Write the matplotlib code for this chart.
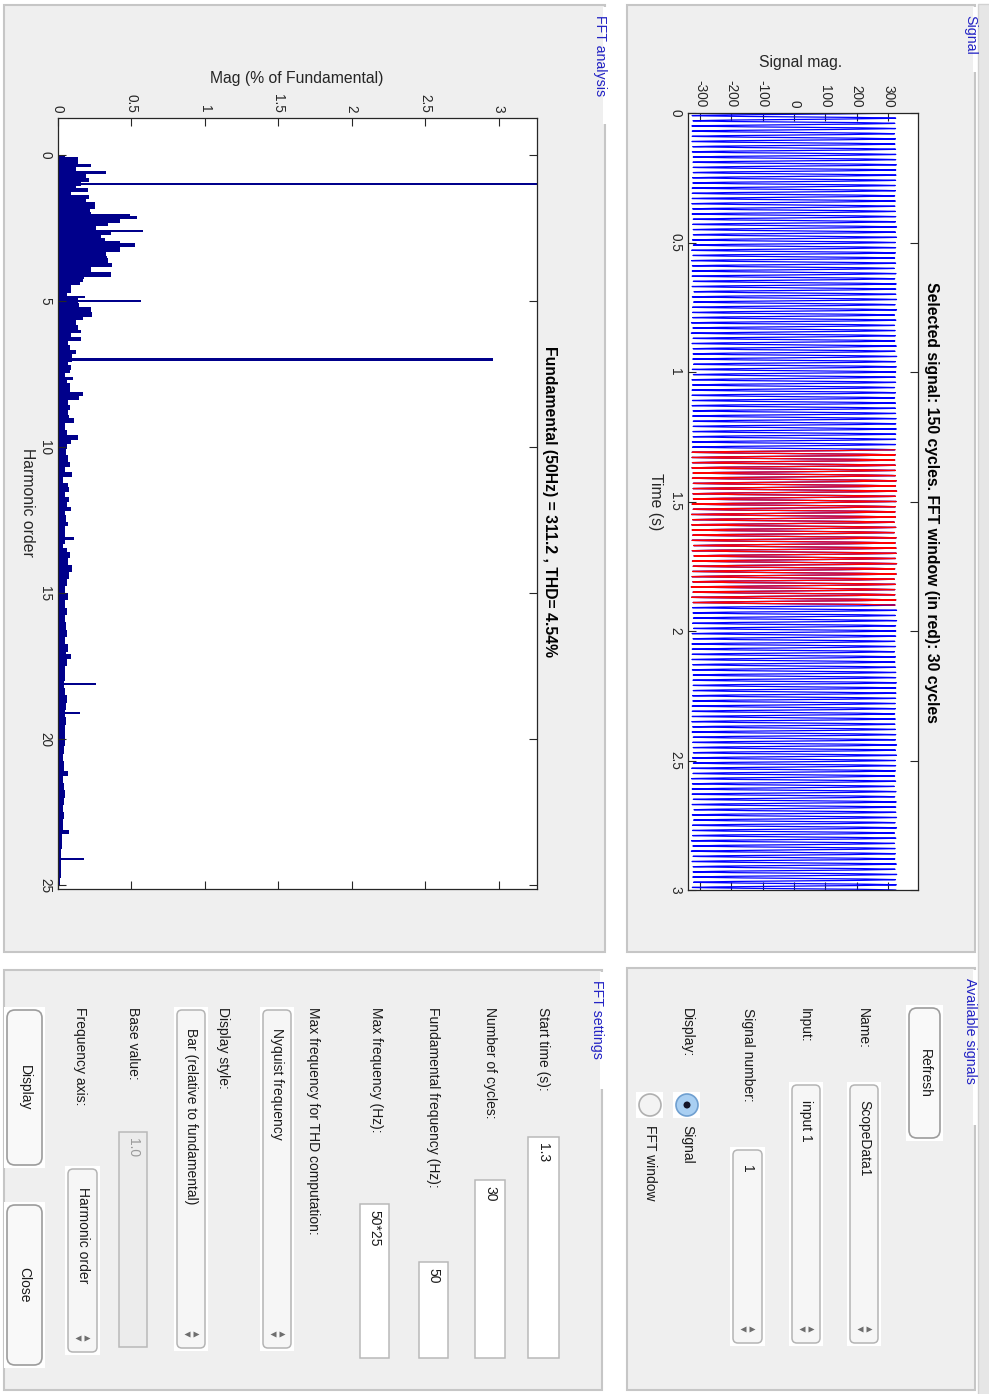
import numpy as np
import matplotlib
matplotlib.use('Agg')
import matplotlib.pyplot as plt
from matplotlib.patches import Rectangle, FancyBboxPatch, Circle

plt.rcParams['font.family'] = ['Liberation Sans', 'DejaVu Sans']

W, H = 989, 1394

# --- signal ---
f0 = 50.0
fund_mag = 311.2
sig_orders = [1, 0.55, 2.08, 2.57, 3.0, 5, 7]
sig_pct = [100, 0.33, 0.54, 0.58, 0.52, 0.57, 2.96]
sig_phase = [0.0, 0.4, 1.1, 2.0, 0.7, 0.3, 0.0]
t_end = 3.0
dt = 1e-4
win_start = 1.3
win_cycles = 30

# --- FFT spectrum (% of fundamental) ---
spec_h = [0.0, 0.06, 0.17, 0.32, 0.40, 0.55, 0.66, 0.80, 0.91, 1.05, 1.12, 1.26, 1.37,
          1.52, 1.62, 1.71, 1.83, 1.94, 2.02, 2.08, 2.19, 2.34, 2.42, 2.57, 2.65, 2.74,
          2.85, 2.95, 3.00, 3.16, 3.33, 3.45, 3.54, 3.68, 3.82, 4.00, 4.17, 4.25, 4.34,
          4.45, 4.62, 4.72, 4.82, 4.91, 5.08, 5.19, 5.36, 5.54, 5.65, 5.82, 5.99, 6.10,
          6.22, 6.36, 6.51, 6.68, 6.81, 7.08, 7.19, 7.36, 7.47, 7.59, 7.70, 7.82, 7.99,
          8.10, 8.25, 8.39, 8.56, 8.73, 8.91, 9.00, 9.19, 9.40, 9.59, 9.76, 9.90, 10.05,
          10.27, 10.50, 10.67, 10.84, 11.02, 11.24, 11.36, 11.53, 11.70, 11.87, 12.04,
          12.18, 12.33, 12.56, 12.70, 12.84, 13.07, 13.18, 13.30, 13.45, 13.59, 13.81,
          14.04, 14.27, 14.50, 14.75, 15.00, 15.25, 15.50, 15.75, 16.00, 16.25, 16.50,
          16.75, 17.00, 17.10, 17.25, 17.50, 17.75, 18.00, 18.25, 18.50, 18.75, 19.00,
          19.25, 19.50, 19.75, 20.00, 20.25, 20.50, 20.75, 21.10, 21.25, 21.50, 21.75,
          22.00, 22.25, 22.50, 22.75, 23.10, 23.25, 23.50, 23.75, 24.00, 24.25, 24.50,
          24.75, 25.00, 25.03]
spec_mag = [0.05, 0.136, 0.136, 0.227, 0.125, 0.33, 0.193, 0.211, 0.159, 0.12, 0.205, 0.091,
            0.211, 0.193, 0.255, 0.255, 0.216, 0.227, 0.489, 0.539, 0.42, 0.341, 0.261,
            0.58, 0.359, 0.295, 0.318, 0.425, 0.523, 0.425, 0.33, 0.334, 0.341, 0.37,
            0.227, 0.359, 0.175, 0.17, 0.152, 0.091, 0.091, 0.06, 0.186, 0.136, 0.14,
            0.227, 0.232, 0.17, 0.12, 0.136, 0.159, 0.09, 0.159, 0.07, 0.08, 0.125, 0.098,
            0.07, 0.091, 0.08, 0.05, 0.102, 0.06, 0.08, 0.084, 0.17, 0.143, 0.068, 0.08,
            0.068, 0.075, 0.107, 0.045, 0.06, 0.136, 0.091, 0.06, 0.052, 0.068, 0.08,
            0.05, 0.098, 0.034, 0.07, 0.073, 0.05, 0.075, 0.06, 0.091, 0.05, 0.057, 0.068,
            0.05, 0.045, 0.107, 0.05, 0.034, 0.06, 0.08, 0.068, 0.098, 0.075, 0.06, 0.045,
            0.065, 0.05, 0.06, 0.045, 0.055, 0.06, 0.05, 0.065, 0.055, 0.09, 0.06, 0.05,
            0.045, 0.04, 0.05, 0.06, 0.055, 0.05, 0.055, 0.05, 0.045, 0.05, 0.04, 0.035,
            0.04, 0.07, 0.035, 0.04, 0.045, 0.04, 0.035, 0.04, 0.035, 0.075, 0.03, 0.025,
            0.02, 0.02, 0.02, 0.02, 0.015, 0.015, 0.0]
peak_h = [1, 5, 7, 18.1, 19.1, 24.1]
peak_mag = [100, 0.568, 2.96, 0.26, 0.15, 0.18]

sig_title = 'Selected signal: 150 cycles. FFT window (in red): 30 cycles'
fft_title = 'Fundamental (50Hz) = 311.2 , THD= 4.54%'

blue_txt = '#2222c4'
panel_fc = '#efefef'
panel_ec = '#c6c6c6'
dark = '#262626'


def fig_rect(x0, y0, x1, y1):
    return [x0 / W, 1 - y1 / H, (x1 - x0) / W, (y1 - y0) / H]


fig = plt.figure(figsize=(W / 100, H / 100), dpi=100, facecolor='white')
bg = fig.add_axes([0, 0, 1, 1])
bg.set_xlim(0, W)
bg.set_ylim(H, 0)
bg.axis('off')

# right strip
bg.add_patch(Rectangle((978, 4), 12, H, fc='#e6e6e6', ec='#d2d2d2', lw=1))


def panel(x0, y0, x1, y1, title, gap_end):
    bg.add_patch(Rectangle((x0, y0), x1 - x0, y1 - y0, fc=panel_fc, ec=panel_ec, lw=1.5))
    # gap in the right border where the title sits
    bg.add_patch(Rectangle((x1 - 2, y0 + 2), 4, gap_end - y0, fc='white', ec='none'))
    bg.text(x1 - 5, y0 + 10, title, rotation=-90, ha='center', va='top',
            color=blue_txt, fontsize=10.2)


panel(627, 5, 975, 952, 'Signal', 70)
panel(4, 5, 605, 952, 'FFT analysis', 122)
panel(627, 968, 975, 1390, 'Available signals', 1123)
panel(4, 970, 602, 1390, 'FFT settings', 1087)


def label(x, y, s, **kw):
    kw.setdefault('fontsize', 10)
    kw.setdefault('color', '#1a1a1a')
    bg.text(x, y, s, rotation=-90, ha='center', va='top', **kw)


def button(x0, y0, x1, y1, s):
    bg.add_patch(Rectangle((x0 - 3, y0 - 3), x1 - x0 + 6, y1 - y0 + 6, fc='white', ec='none'))
    bg.add_patch(FancyBboxPatch((x0, y0), x1 - x0, y1 - y0,
                                boxstyle='round,pad=0,rounding_size=8',
                                fc='#f9f9f9', ec='#9c9c9c', lw=1.2))
    bg.text((x0 + x1) / 2, (y0 + y1) / 2, s, rotation=-90, ha='center', va='center',
            fontsize=10, color='#1a1a1a')


def popup(x0, y0, x1, y1, s, ty):
    bg.add_patch(Rectangle((x0 - 3, y0 - 3), x1 - x0 + 6, y1 - y0 + 6, fc='white', ec='none'))
    bg.add_patch(FancyBboxPatch((x0, y0), x1 - x0, y1 - y0,
                                boxstyle='round,pad=0,rounding_size=5',
                                fc='#f6f6f6', ec='#b4b4b4', lw=1.1))
    xc = (x0 + x1) / 2
    label(xc, ty, s)
    bg.plot([xc - 4.5], [y1 - 14], marker='<', ms=4, color='#6e6e6e', mec='none')
    bg.plot([xc + 4.5], [y1 - 14], marker='>', ms=4, color='#6e6e6e', mec='none')


def edit(x0, y0, x1, y1, s, fc='white', tc='#1a1a1a'):
    bg.add_patch(Rectangle((x0, y0), x1 - x0, y1 - y0, fc=fc, ec='#b9b9b9', lw=1.1))
    label((x0 + x1) / 2, y0 + 6, s, color=tc)


def radio(xc, yc, s, selected):
    bg.add_patch(Rectangle((xc - 14, yc - 13), 27, 26, fc='white', ec='none'))
    if selected:
        bg.add_patch(Circle((xc, yc), 11, fc='#a9cff2', ec='#6f9fd0', lw=1.2))
        bg.add_patch(Circle((xc, yc), 3.5, fc='#141428', ec='none'))
    else:
        bg.add_patch(Circle((xc, yc), 11, fc='#f3f3f3', ec='#b0b0b0', lw=1.2))
    label(xc, yc + 20, s)


# Available signals
button(909, 1008, 940, 1138, 'Refresh')
label(863, 1008, 'Name:')
popup(850, 1085, 878, 1343, 'ScopeData1', 1100)
label(805, 1008, 'Input:')
popup(792, 1085, 820, 1343, 'input 1', 1100)
label(748, 1008, 'Signal number:')
popup(733, 1150, 762, 1343, '1', 1165)
label(687, 1008, 'Display:')
radio(687, 1105, 'Signal', True)
radio(650, 1105, 'FFT window', False)

# FFT settings
label(543, 1007, 'Start time (s):')
edit(528, 1137, 559, 1358, '1.3')
label(490, 1007, 'Number of cycles:')
edit(475, 1180, 505, 1358, '30')
label(433, 1007, 'Fundamental frequency (Hz):')
edit(419, 1262, 448, 1358, '50')
label(376, 1007, 'Max frequency (Hz):')
edit(360, 1204, 389, 1358, '50*25')
label(313, 1007, 'Max frequency for THD computation:')
popup(263, 1010, 291, 1348, 'Nyquist frequency', 1028)
label(223, 1007, 'Display style:')
popup(177, 1010, 205, 1348, 'Bar (relative to fundamental)', 1028)
label(133, 1007, 'Base value:')
edit(119, 1132, 147, 1347, '1.0', fc='#ececec', tc='#9a9a9a')
label(80, 1007, 'Frequency axis:')
popup(68, 1169, 97, 1352, 'Harmonic order', 1187)
button(7, 1010, 42, 1165, 'Display')
button(7, 1205, 42, 1365, 'Close')

# --- signal plot ---
t = np.arange(0, t_end + dt / 2, dt)
sig = np.zeros_like(t)
for h, p, ph in zip(sig_orders, sig_pct, sig_phase):
    sig += fund_mag * p / 100 * np.cos(2 * np.pi * f0 * h * t + ph)
win = (t >= win_start) & (t <= win_start + win_cycles / f0)

ax1 = fig.add_axes(fig_rect(688, 113, 918, 890))
ax1.plot(sig, t, color='#0000ff', lw=0.9)
ax1.plot(sig[win], t[win], color='#ff0000', lw=0.9)
ax1.set_xlim(-338, 395)
ax1.set_ylim(t_end, 0)
ax1.set_xticks(np.arange(-300, 301, 100))
ax1.set_yticks(np.arange(0, 3.01, 0.5))

# --- FFT plot ---
ax2 = fig.add_axes(fig_rect(58, 118, 537, 889))
ax2.barh(spec_h[:-1], spec_mag[:-1], height=np.diff(spec_h), align='edge',
         color='#00008b', lw=0)
ax2.barh(peak_h, peak_mag, height=0.075, color='#00008b', lw=0)
ax2.set_xlim(0, 3.26)
ax2.set_ylim(25.13, -1.27)
ax2.set_xticks(np.arange(0, 3.01, 0.5))
ax2.set_yticks(np.arange(0, 26, 5))

for ax in (ax1, ax2):
    ax.xaxis.tick_top()
    ax.tick_params(axis='both', direction='in', length=6, width=0.8, labelsize=9.8,
                   colors=dark, top=True, bottom=True, left=True, right=True,
                   labeltop=True, labelbottom=False, labelleft=True, labelright=False,
                   pad=4)
    ax.xaxis.set_major_formatter(matplotlib.ticker.FormatStrFormatter('%g'))
    ax.yaxis.set_major_formatter(matplotlib.ticker.FormatStrFormatter('%g'))
    plt.setp(ax.get_xticklabels(), rotation=-90, ha='center', va='bottom')
    plt.setp(ax.get_yticklabels(), rotation=-90, ha='right', va='center')
    for sp in ax.spines.values():
        sp.set_color(dark)
        sp.set_linewidth(0.9)

bg.text(801, 63, 'Signal mag.', ha='center', va='center', fontsize=11.3, color=dark)
bg.text(656, 502, 'Time (s)', rotation=-90, ha='center', va='center', fontsize=11.3, color=dark)
bg.text(931, 502, sig_title, rotation=-90, ha='center', va='center', fontsize=11.3,
        fontweight='bold', color='black')
bg.text(297, 78, 'Mag (% of Fundamental)', ha='center', va='center', fontsize=11.3, color=dark)
bg.text(27, 502, 'Harmonic order', rotation=-90, ha='center', va='center', fontsize=11.3,
        color=dark)
bg.text(550, 502, fft_title, rotation=-90, ha='center', va='center', fontsize=11.3,
        fontweight='bold', color='black')

fig.savefig('out.png', dpi=100, facecolor='white')
